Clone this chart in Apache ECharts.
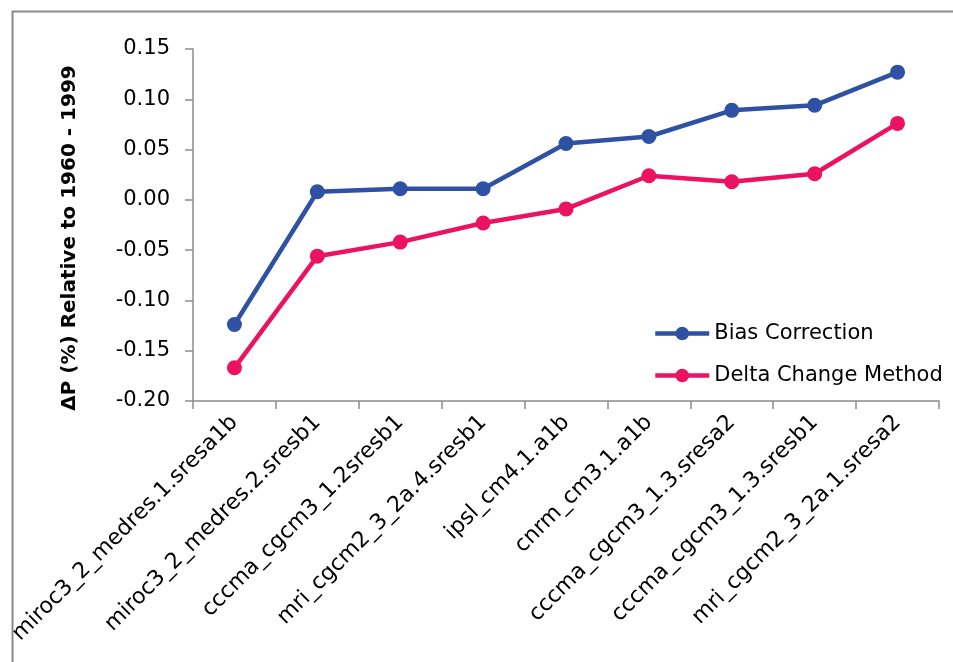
<!DOCTYPE html>
<html>
<head>
<meta charset="utf-8">
<script src="https://cdn.jsdelivr.net/npm/echarts@6/dist/echarts.min.js"></script>
<style>
  html, body { margin: 0; padding: 0; background: #fff; }
  #chart { width: 953px; height: 662px; }
</style>
</head>
<body>
<div id="chart"></div>
<script>
// Climate model runs along the x axis
const models = [
  'miroc3_2_medres.1.sresa1b',
  'miroc3_2_medres.2.sresb1',
  'cccma_cgcm3_1.2sresb1',
  'mri_cgcm2_3_2a.4.sresb1',
  'ipsl_cm4.1.a1b',
  'cnrm_cm3.1.a1b',
  'cccma_cgcm3_1.3.sresa2',
  'cccma_cgcm3_1.3.sresb1',
  'mri_cgcm2_3_2a.1.sresa2'
];

// Change in precipitation for each downscaling approach
const biasCorrection = [-0.124, 0.008, 0.011, 0.011, 0.056, 0.063, 0.089, 0.094, 0.127];
const deltaChange    = [-0.167, -0.056, -0.042, -0.023, -0.009, 0.024, 0.018, 0.026, 0.076];

const seriesNames = ['Bias Correction', 'Delta Change Method'];
const yTitle = '\u0394P (%) Relative to 1960 - 1999';

const FONT = 'DejaVu Sans';
const AXIS_GRAY = '#8c8c8c';
const BLUE = '#2e51a3';
const PINK = '#ec1262';

const chart = echarts.init(document.getElementById('chart'), null, { renderer: 'canvas' });

chart.setOption({
  animation: false,
  backgroundColor: '#ffffff',
  grid: { left: 193, right: 14, top: 49, bottom: 261, containLabel: false },
  legend: {
    orient: 'vertical',
    left: 648,
    top: 318,
    itemWidth: 54,
    itemHeight: 17,
    itemGap: 21,
    lineStyle: { width: 4.5 },
    textStyle: { fontFamily: FONT, fontSize: 21, color: '#000' },
    data: seriesNames
  },
  xAxis: {
    type: 'category',
    data: models,
    boundaryGap: true,
    axisLine: { show: true, onZero: false, lineStyle: { color: AXIS_GRAY, width: 1.5 } },
    axisTick: { show: true, length: 8, lineStyle: { color: AXIS_GRAY, width: 1.5 } },
    axisLabel: {
      rotate: 45,
      margin: 18,
      interval: 0,
      fontFamily: FONT,
      fontSize: 22,
      color: '#000'
    },
    splitLine: { show: false }
  },
  yAxis: {
    type: 'value',
    min: -0.2,
    max: 0.15,
    interval: 0.05,
    axisLine: { show: true, lineStyle: { color: AXIS_GRAY, width: 1.5 } },
    axisTick: { show: true, length: 8, lineStyle: { color: AXIS_GRAY, width: 1.5 } },
    axisLabel: {
      margin: 23,
      fontFamily: FONT,
      fontSize: 21,
      color: '#000',
      formatter: v => v.toFixed(2)
    },
    splitLine: { show: false }
  },
  graphic: [
    {
      // outer chart frame
      type: 'rect',
      left: 10,
      top: 9,
      shape: { width: 980, height: 700 },
      style: { fill: 'none', stroke: '#8a8a8a', lineWidth: 2 },
      silent: true
    },
    {
      type: 'text',
      x: 70,
      y: 238,
      rotation: Math.PI / 2,
      style: {
        text: yTitle,
        font: 'bold 20px "DejaVu Sans"',
        fill: '#000',
        textAlign: 'center',
        textVerticalAlign: 'middle'
      }
    }
  ],
  series: [
    {
      name: seriesNames[0],
      type: 'line',
      data: biasCorrection,
      symbol: 'circle',
      symbolSize: 15,
      lineStyle: { color: BLUE, width: 4.5 },
      itemStyle: { color: BLUE }
    },
    {
      name: seriesNames[1],
      type: 'line',
      data: deltaChange,
      symbol: 'circle',
      symbolSize: 15,
      lineStyle: { color: PINK, width: 4.5 },
      itemStyle: { color: PINK }
    }
  ]
});
</script>
</body>
</html>
